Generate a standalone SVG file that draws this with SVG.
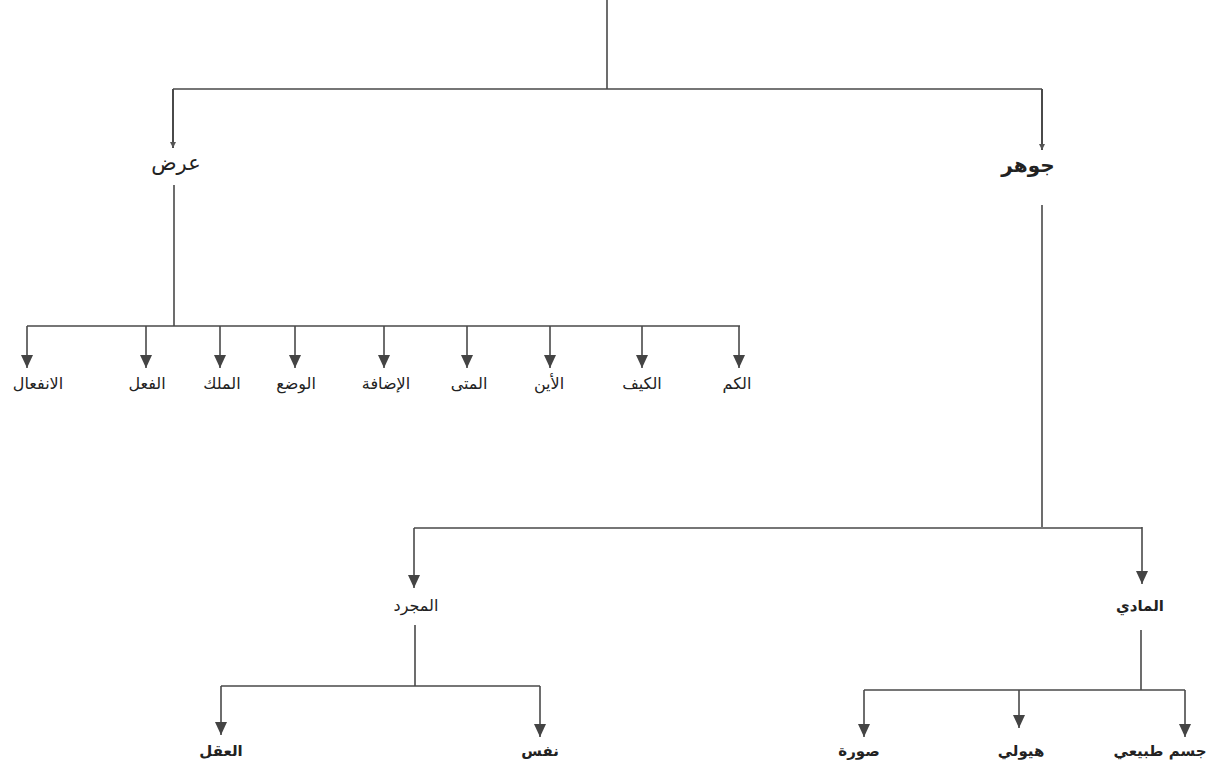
<svg xmlns="http://www.w3.org/2000/svg" width="1211" height="772" viewBox="0 0 1211 772">
<style>
.c{fill:none;stroke:#4a4a4a;stroke-width:1.6}
.a{fill:none;stroke:#4a4a4a;stroke-width:1.6;marker-end:url(#ah)}
.s{fill:none;stroke:#4a4a4a;stroke-width:2;marker-end:url(#sh)}
.t{font-family:"DejaVu Sans",sans-serif;font-size:16px;fill:#222;text-anchor:middle;direction:rtl}
.tb{font-family:"DejaVu Sans",sans-serif;font-size:21px;fill:#222;text-anchor:middle;direction:rtl}
.b{font-weight:bold;font-size:15px}
.tb.b{font-size:20px}
</style>
<defs>
<marker id="ah" viewBox="0 0 13 12" refX="13" refY="6" markerWidth="13" markerHeight="12" markerUnits="userSpaceOnUse" orient="auto">
<path d="M0,0 L13,6 L0,12 Z" fill="#444"/>
</marker>
<marker id="sh" viewBox="0 0 6 6" refX="6" refY="3" markerWidth="6" markerHeight="6" markerUnits="userSpaceOnUse" orient="auto">
<path d="M0,0 L6,3 L0,6 Z" fill="#555"/>
</marker>
</defs>
<rect width="1211" height="772" fill="#fff"/>
<g id="connectors">
<path class="c" d="M607,0 V89 M173,89 H1042"/>
<path class="s" d="M173,89 V148"/>
<path class="s" d="M1042,89 V150"/>
<path class="c" d="M174,185 V326 M27,326 H740"/>
<path class="a" d="M27,326 V368"/>
<path class="a" d="M146,326 V368"/>
<path class="a" d="M220,326 V368"/>
<path class="a" d="M295,326 V368"/>
<path class="a" d="M384,326 V368"/>
<path class="a" d="M467,326 V368"/>
<path class="a" d="M550,326 V368"/>
<path class="a" d="M642,326 V368"/>
<path class="a" d="M739,326 V368"/>
<path class="c" d="M1042,205 V527 M414,528 H1142"/>
<path class="a" d="M414,528 V588"/>
<path class="a" d="M1142,527 V584"/>
<path class="c" d="M415,625 V686 M221,686 H540"/>
<path class="a" d="M221,686 V735"/>
<path class="a" d="M540,686 V737"/>
<path class="c" d="M1141,630 V690 M864,690 H1185"/>
<path class="a" d="M864,690 V737"/>
<path class="a" d="M1019,690 V728"/>
<path class="a" d="M1185,690 V737"/>
</g>
<g id="n-arad"><text class="tb" x="176" y="170">عرض</text></g>
<g id="n-jawhar"><text class="tb b" x="1028" y="172">جوهر</text></g>
<g id="n-infial"><text class="t" x="38" y="389">الانفعال</text></g>
<g id="n-fil"><text class="t" x="147" y="389">الفعل</text></g>
<g id="n-milk"><text class="t" x="222" y="389">الملك</text></g>
<g id="n-wad"><text class="t" x="296" y="389">الوضع</text></g>
<g id="n-idafa"><text class="t" x="386" y="389">الإضافة</text></g>
<g id="n-mata"><text class="t" x="469" y="389">المتى</text></g>
<g id="n-ayn"><text class="t" x="549" y="389">الأين</text></g>
<g id="n-kayf"><text class="t" x="642" y="389">الكيف</text></g>
<g id="n-kam"><text class="t" x="737" y="389">الكم</text></g>
<g id="n-mujarrad"><text class="t" x="416" y="611">المجرد</text></g>
<g id="n-maddi"><text class="t b" x="1140" y="611">المادي</text></g>
<g id="n-aql"><text class="t b" x="221" y="756">العقل</text></g>
<g id="n-nafs"><text class="t b" x="540" y="756">نفس</text></g>
<g id="n-sura"><text class="t b" x="859" y="756">صورة</text></g>
<g id="n-hayula"><text class="t b" x="1021" y="756">هيولي</text></g>
<g id="n-jism"><text class="t b" x="1160" y="756">جسم طبيعي</text></g>
</svg>
